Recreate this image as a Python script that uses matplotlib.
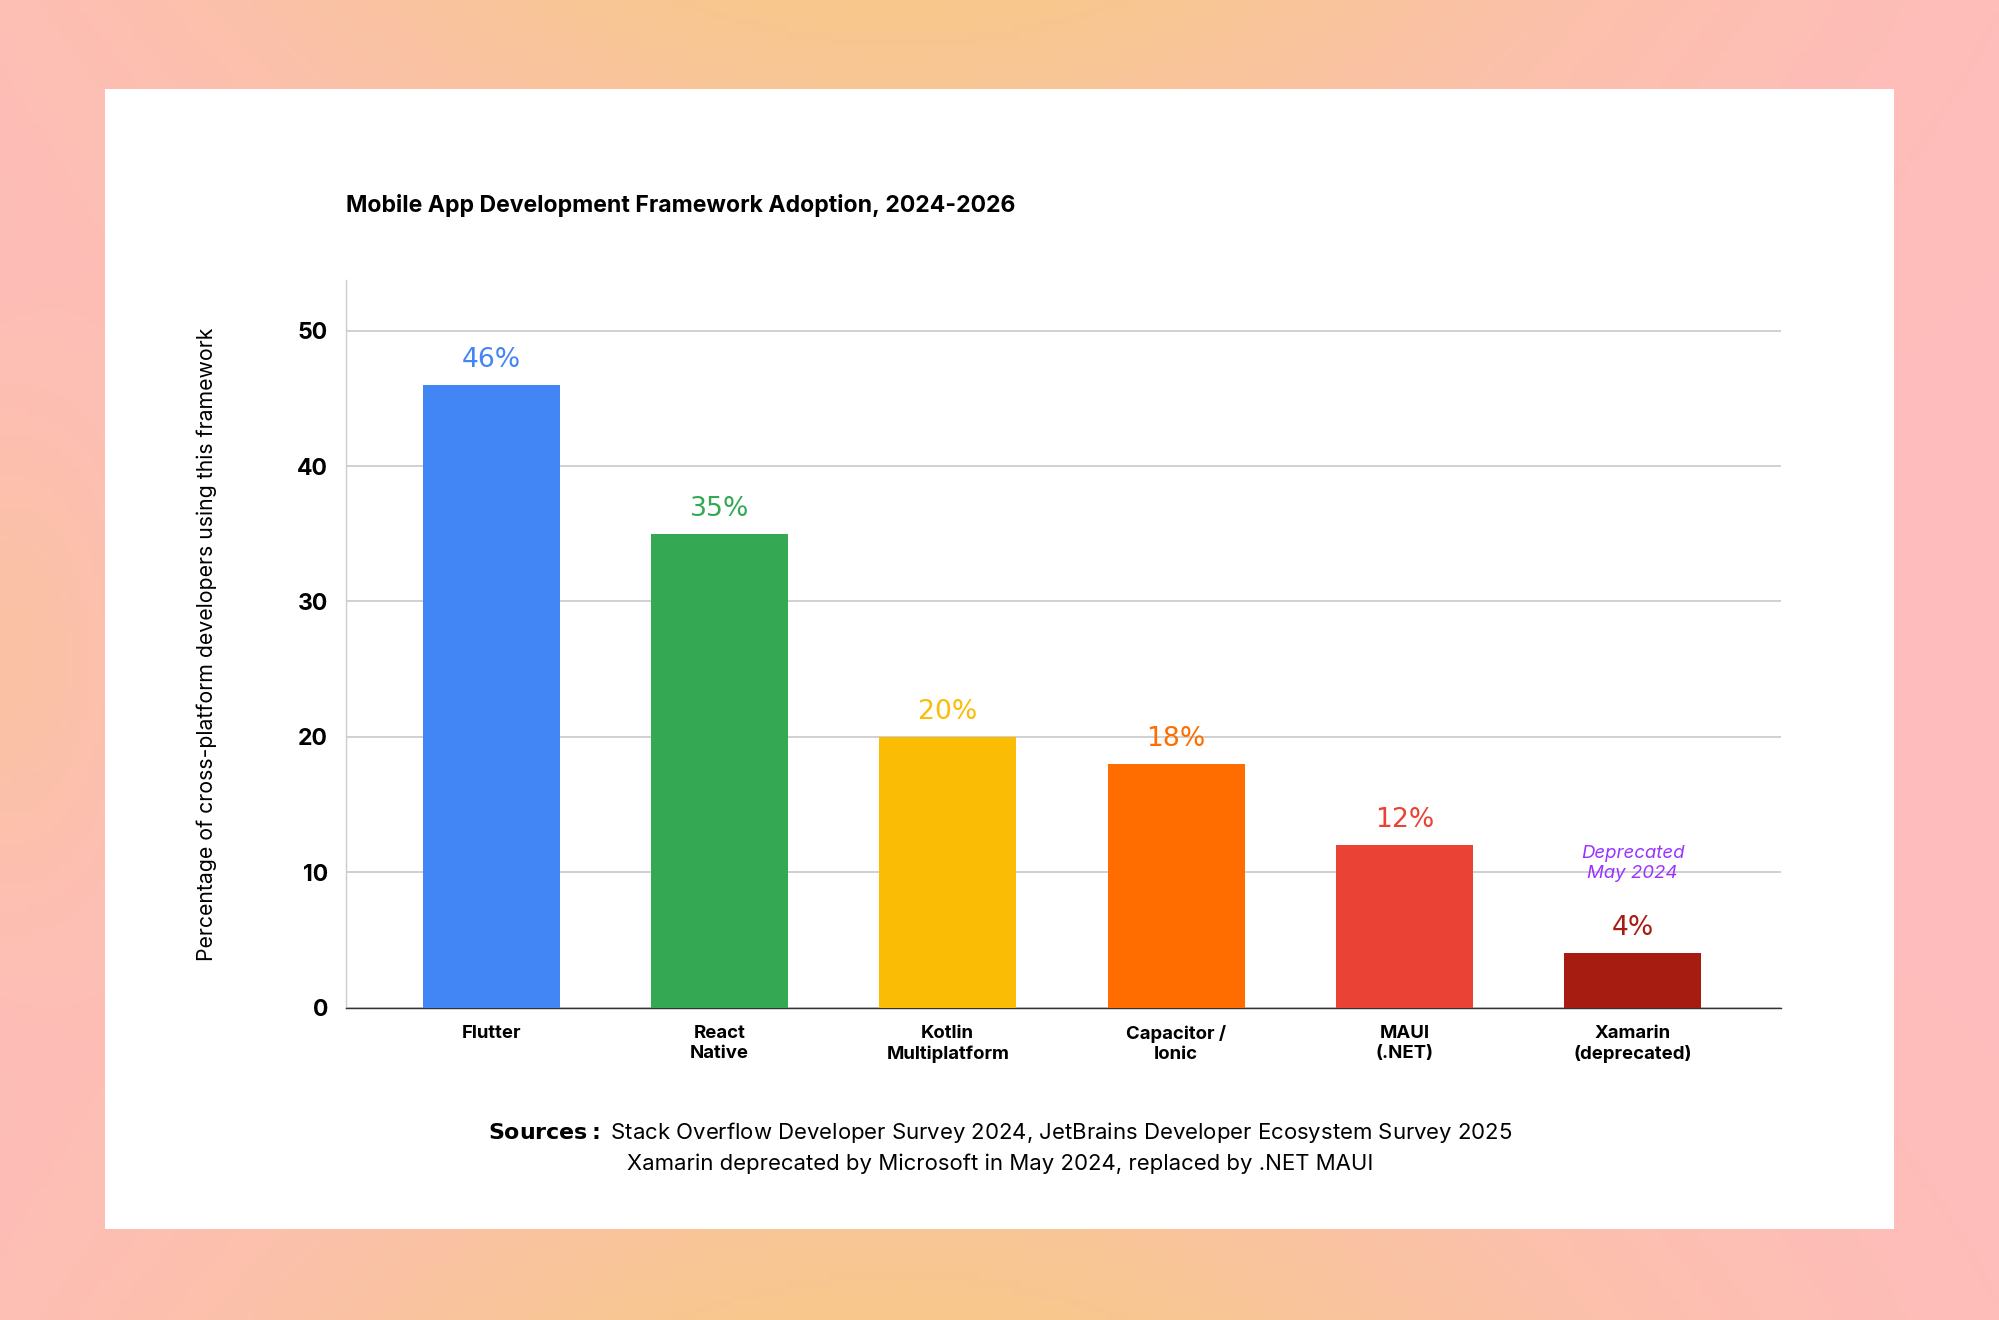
import numpy as np
import matplotlib.pyplot as plt
from matplotlib.colors import LinearSegmentedColormap

plt.rcParams['font.family'] = ['Inter', 'DejaVu Sans']

categories = ['Flutter', 'React\nNative', 'Kotlin\nMultiplatform', 'Capacitor /\nIonic', 'MAUI\n(.NET)', 'Xamarin\n(deprecated)']
values = [46, 35, 20, 18, 12, 4]
colors = ['#4285F4', '#34A853', '#FBBC05', '#FF6D01', '#EA4335', '#A61C11']
yticks = [0, 10, 20, 30, 40, 50]

fig = plt.figure(figsize=(15.68, 10.35), dpi=127.55)

# gradient background
bg = fig.add_axes([0, 0, 1, 1])
h, w = 200, 300
yy, xx = np.mgrid[0:1:h * 1j, 0:1:w * 1j]
pink = np.array([255, 188, 190]) / 255
orange = np.array([247, 200, 140]) / 255
wt = np.exp(-((xx - 0.45) / 0.35) ** 2) * (np.abs(yy - 0.5) * 2) ** 1.5
wt += 0.5 * np.exp(-((xx - 0.0) / 0.08) ** 2) * np.exp(-((yy - 0.5) / 0.2) ** 2)
wt = np.clip(wt, 0, 1)[..., None]
img = pink * (1 - wt) + orange * wt
bg.imshow(img, aspect='auto', extent=[0, 1, 0, 1])
bg.axis('off')

# white card
card = fig.add_axes([82 / 1568, 1 - 964 / 1035, (1485 - 82) / 1568, (964 - 70) / 1035])
card.set_facecolor('white')
card.set_xticks([]); card.set_yticks([])
for s in card.spines.values():
    s.set_visible(False)

ax = fig.add_axes([271 / 1568, 1 - 790 / 1035, (1396 - 271) / 1568, (790 - 220) / 1035])
ax.set_facecolor('none')
x = np.arange(len(categories))
ax.bar(x, values, width=0.6, color=colors, zorder=3)
ax.set_xlim(-0.637, 5.648)
ax.set_ylim(0, 53.7)
ax.set_yticks(yticks)
ax.set_yticklabels([str(t) for t in yticks], fontsize=13, fontweight='bold')
ax.set_xticks(x)
ax.set_xticklabels(categories, fontsize=10.5, fontweight='bold')
ax.tick_params(length=0, pad=10)
ax.tick_params(axis='y', pad=10)
ax.grid(axis='y', color='#cccccc', linewidth=1, zorder=0)
for s in ['top', 'right']:
    ax.spines[s].set_visible(False)
ax.spines['left'].set_color('#cccccc')
ax.spines['bottom'].set_color('#333333')
ax.set_ylabel('Percentage of cross-platform developers using this framework', fontsize=12, labelpad=45)

for xi, v, c in zip(x, values, colors):
    ax.text(xi, v + 0.9, f'{v}%', ha='center', va='bottom', fontsize=15, color=c,
            family=['Liberation Sans Narrow', 'DejaVu Sans'])
ax.text(5, 9.3, 'Deprecated\nMay 2024', ha='center', va='bottom', fontsize=10.5,
        style='italic', color='#9933ff', linespacing=1.2)

fig.text(271 / 1568, 1 - 161 / 1035, 'Mobile App Development Framework Adoption, 2024-2026',
         fontsize=13, fontweight='bold', va='center', ha='left')
fig.text(0.5, 1 - 888 / 1035, r'$\bf{Sources:}$ Stack Overflow Developer Survey 2024, JetBrains Developer Ecosystem Survey 2025',
         fontsize=12.5, ha='center', va='center')
fig.text(0.5, 1 - 912 / 1035, 'Xamarin deprecated by Microsoft in May 2024, replaced by .NET MAUI',
         fontsize=12.5, ha='center', va='center')

fig.savefig('out.png', dpi=127.55)
